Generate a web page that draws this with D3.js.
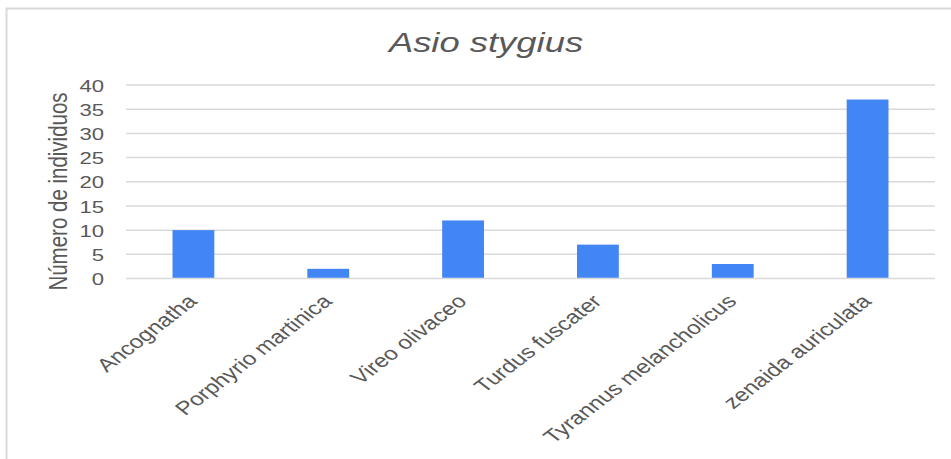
<!DOCTYPE html>
<html>
<head>
<meta charset="utf-8">
<script src="https://cdn.jsdelivr.net/npm/d3@7"></script>
<style>
  html, body { margin: 0; padding: 0; background: #fff; }
  svg { display: block; font-family: "Liberation Sans", Arial, sans-serif; }
</style>
</head>
<body>
<svg id="chart" width="951" height="459"></svg>
<script>
// Number of individuals per prey species
const species = ["Ancognatha", "Porphyrio martinica", "Vireo olivaceo", "Turdus fuscater", "Tyrannus melancholicus", "zenaida auriculata"];
const counts = [10, 2, 12, 7, 3, 37];
const yTicks = [0, 5, 10, 15, 20, 25, 30, 35, 40];
const chartTitle = "Asio stygius";
const yTitle = "Número de individuos";

const svg = d3.select("#chart");
const W = 951, H = 459;
const plot = { left: 126, right: 935, top: 85, bottom: 278.5 };
const textColor = "#595959";
const stretch = 1.3; // text is drawn horizontally widened

// Outer frame
svg.append("path")
  .attr("d", `M6.5,${H} V8.5 H${W}`)
  .attr("fill", "none")
  .attr("stroke", "#d9d9d9")
  .attr("stroke-width", 2);

const x = d3.scaleBand()
  .domain(species)
  .range([plot.left, plot.right])
  .paddingInner(0.69)
  .paddingOuter(0.345);

const y = d3.scaleLinear()
  .domain([0, 40])
  .range([plot.bottom, plot.top]);

// Gridlines
svg.append("g")
  .selectAll("line")
  .data(yTicks)
  .join("line")
  .attr("x1", plot.left)
  .attr("x2", plot.right)
  .attr("y1", d => y(d))
  .attr("y2", d => y(d))
  .attr("stroke", "#d9d9d9")
  .attr("stroke-width", 1.5);

// Bars
svg.append("g")
  .selectAll("rect")
  .data(species.map((s, i) => ({ s, v: counts[i] })))
  .join("rect")
  .attr("x", d => x(d.s))
  .attr("width", x.bandwidth())
  .attr("y", d => y(d.v))
  .attr("height", d => y(0) - y(d.v) - 0.75)
  .attr("fill", "#4285f4");

// Y axis labels
const yAxis = svg.append("g")
  .attr("transform", `translate(${plot.left - 22},0)`)
  .call(d3.axisLeft(y).tickValues(yTicks).tickSize(0).tickPadding(0));
yAxis.select(".domain").remove();
yAxis.selectAll("text")
  .attr("x", 0)
  .attr("dy", "0.36em")
  .attr("fill", textColor)
  .attr("font-size", 17)
  .attr("font-family", "Liberation Sans, Arial, sans-serif")
  .attr("transform", `scale(${stretch},1)`);

// X axis labels, rotated
const xAxis = svg.append("g")
  .attr("transform", `translate(0,${plot.bottom})`)
  .call(d3.axisBottom(x).tickSize(0).tickPadding(0));
xAxis.select(".domain").remove();
xAxis.selectAll("text")
  .attr("fill", textColor)
  .attr("font-size", 18.7)
  .attr("font-family", "Liberation Sans, Arial, sans-serif")
  .attr("text-anchor", "end")
  .attr("y", 0)
  .attr("dy", 0)
  .attr("transform", `translate(5,24) scale(${stretch},1) rotate(-45)`);

// Y axis title
svg.append("text")
  .attr("transform", `translate(67,${191.5}) scale(${stretch},1) rotate(-90)`)
  .attr("text-anchor", "middle")
  .attr("fill", textColor)
  .attr("font-size", 20.5)
  .text(yTitle);

// Chart title
svg.append("text")
  .attr("transform", `translate(486,52) scale(${stretch},1)`)
  .attr("text-anchor", "middle")
  .attr("fill", textColor)
  .attr("font-size", 28)
  .attr("font-style", "italic")
  .text(chartTitle);
</script>
</body>
</html>
